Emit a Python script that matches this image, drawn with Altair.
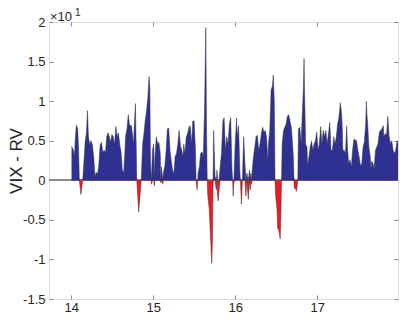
import altair as alt
import pandas as pd

# x positions (axis units) and VIX - RV values (in units of 10^1)
t = [14.004, 14.027, 14.039, 14.051, 14.063, 14.079, 14.091, 14.099, 14.119, 14.140,
     14.159, 14.171, 14.186, 14.198, 14.210, 14.227, 14.242, 14.258, 14.274, 14.290,
     14.305, 14.322, 14.337, 14.353, 14.370, 14.385, 14.401, 14.418, 14.433, 14.449,
     14.465, 14.481, 14.496, 14.513, 14.529, 14.544, 14.561, 14.576, 14.592, 14.609,
     14.624, 14.640, 14.652, 14.663, 14.680, 14.696, 14.711, 14.735, 14.759, 14.783,
     14.800, 14.823, 14.854, 14.871, 14.887, 14.902, 14.919, 14.934, 14.950, 14.959,
     14.967, 14.974, 14.979, 14.991, 15.006, 15.014, 15.021, 15.038, 15.054, 15.069,
     15.086, 15.093, 15.101, 15.117, 15.125, 15.141, 15.158, 15.173, 15.189, 15.205,
     15.221, 15.236, 15.253, 15.268, 15.284, 15.301, 15.316, 15.332, 15.348, 15.364,
     15.372, 15.388, 15.403, 15.420, 15.436, 15.451, 15.468, 15.483, 15.499, 15.516,
     15.523, 15.535, 15.543, 15.547, 15.563, 15.579, 15.594, 15.611, 15.626, 15.642,
     15.650, 15.659, 15.666, 15.683, 15.698, 15.714, 15.722, 15.730, 15.737, 15.746,
     15.754, 15.770, 15.778, 15.785, 15.794, 15.802, 15.817, 15.833, 15.850, 15.865,
     15.881, 15.897, 15.913, 15.929, 15.945, 15.961, 15.969, 15.976, 15.984, 16.000,
     16.017, 16.024, 16.041, 16.048, 16.056, 16.064, 16.076, 16.088, 16.096, 16.104,
     16.119, 16.131, 16.143, 16.160, 16.175, 16.184, 16.191, 16.199, 16.208, 16.223,
     16.239, 16.255, 16.271, 16.286, 16.303, 16.319, 16.334, 16.351, 16.366, 16.382,
     16.399, 16.406, 16.422, 16.438, 16.454, 16.465, 16.477, 16.486, 16.494, 16.510,
     16.518, 16.533, 16.549, 16.557, 16.565, 16.573, 16.590, 16.605, 16.621, 16.637,
     16.653, 16.668, 16.685, 16.700, 16.709, 16.716, 16.721, 16.733, 16.748, 16.764,
     16.772, 16.788, 16.804, 16.820, 16.832, 16.840, 16.847, 16.859, 16.876, 16.883,
     16.900, 16.915, 16.931, 16.947, 16.963, 16.979, 16.995, 17.011, 17.026, 17.043,
     17.058, 17.074, 17.091, 17.106, 17.122, 17.138, 17.154, 17.169, 17.186, 17.202,
     17.217, 17.234, 17.249, 17.265, 17.282, 17.297, 17.306, 17.313, 17.329, 17.345,
     17.360, 17.369, 17.384, 17.401, 17.417, 17.432, 17.449, 17.464, 17.480, 17.496,
     17.512, 17.527, 17.544, 17.560, 17.575, 17.592, 17.600, 17.607, 17.616, 17.631,
     17.647, 17.655, 17.663, 17.679, 17.695, 17.711, 17.727, 17.742, 17.759, 17.774,
     17.790, 17.807, 17.814, 17.831, 17.846, 17.862, 17.878, 17.894, 17.910, 17.926,
     17.942, 17.958, 17.974, 17.986]

vix_rv = [0.43, 0.38, 0.30, 0.55, 0.70, 0.65, 0.35, 0.00, -0.18, 0.00,
          0.30, 0.50, 0.60, 0.88, 0.55, 0.45, 0.50, 0.45, 0.30, 0.05,
          0.10, 0.08, 0.20, 0.45, 0.48, 0.35, 0.38, 0.35, 0.55, 0.60,
          0.55, 0.48, 0.58, 0.55, 0.45, 0.68, 0.55, 0.60, 0.45, 0.35,
          0.12, 0.10, 0.30, 0.55, 0.65, 0.83, 0.70, 0.69, 0.46, 0.97,
          0.00, -0.40, 0.00, 0.46, 0.59, 0.75, 0.88, 1.04, 1.31, 1.17,
          0.26, 0.09, -0.05, 0.38, 0.46, -0.07, 0.30, 0.55, 0.46, 0.48,
          0.34, -0.03, 0.17, -0.05, 0.10, 0.17, 0.38, 0.65, 0.66, 0.38,
          0.24, 0.13, 0.09, 0.30, 0.34, 0.46, 0.63, 0.44, 0.38, 0.30,
          0.46, 0.34, 0.55, 0.59, 0.67, 0.69, 0.46, 0.75, 0.75, 0.38,
          0.00, -0.12, 0.00, 0.09, 0.17, 0.34, 0.36, 0.30, 0.88, 1.93,
          0.67, 0.00, -0.20, -0.36, -0.69, -1.05, -0.78, -0.03, 0.63, 0.34,
          0.05, -0.12, 0.13, -0.20, -0.26, -0.14, 0.17, 0.34, 0.75, 0.79,
          0.38, 0.55, 0.46, 0.71, 0.79, 0.13, 0.00, -0.20, -0.03, 0.46,
          0.79, 0.55, 0.69, 0.46, 0.13, 0.00, -0.30, 0.00, 0.30, 0.55,
          0.21, -0.20, 0.09, -0.24, 0.13, -0.12, 0.09, -0.05, 0.13, 0.30,
          0.42, 0.55, 0.57, 0.38, 0.46, 0.59, 0.67, 0.61, 0.63, 0.55,
          0.24, 0.46, 0.63, 1.14, 1.19, 1.33, 1.00, 0.00, -0.20, -0.36,
          -0.61, -0.63, -0.74, -0.45, 0.00, 0.46, 0.63, 0.67, 0.71, 0.81,
          0.83, 0.75, 0.67, 0.46, 0.30, 0.05, -0.10, -0.10, -0.14, 0.00,
          0.65, 0.67, 0.46, 0.88, 1.17, 1.54, 1.08, 0.46, 0.42, 0.19,
          0.30, 0.42, 0.50, 0.38, 0.46, 0.50, 0.61, 0.38, 0.46, 0.68,
          0.46, 0.63, 0.55, 0.63, 0.46, 0.59, 0.73, 0.38, 0.38, 0.55,
          0.46, 0.55, 0.71, 0.79, 0.98, 0.86, 0.67, 0.38, 0.38, 0.34,
          0.69, 0.42, 0.21, 0.26, 0.17, 0.38, 0.52, 0.51, 0.50, 0.38,
          0.30, 0.19, 0.21, 0.42, 0.48, 0.71, 1.00, 0.83, 0.71, 0.42,
          0.30, 0.13, 0.24, 0.22, 0.15, 0.38, 0.42, 0.46, 0.61, 0.63,
          0.65, 0.69, 0.55, 0.59, 0.57, 0.81, 0.55, 0.46, 0.50, 0.38,
          0.34, 0.38, 0.50, 0.45]

x_ticks = [14, 15, 16, 17]
y_ticks = [-1.5, -1, -0.5, 0, 0.5, 1, 1.5, 2]
x_domain = [13.729, 17.986]
y_domain = [-1.5, 2]
y_title = "VIX - RV"
exp_base = "×10"
exp_power = "1"

df = pd.DataFrame({"t": t, "v": vix_rv})

FONT = "Liberation Sans"
TXT = "#262626"
AX = "#8a8a8a"
BLUE = "#2E3192"
RED = "#ED1C24"
H = 277

xs = alt.Scale(domain=x_domain, nice=False, zero=False)
ys = alt.Scale(domain=y_domain, nice=False, zero=False)

base = alt.Chart(df).transform_calculate(
    pos="max(datum.v, 0)", neg="min(datum.v, 0)"
)

zero_rule = alt.Chart(df).mark_rule(color=AX, strokeWidth=1).encode(
    y=alt.Y(datum=0, scale=ys, axis=None)
)

pos_area = base.mark_area(
    color=BLUE, opacity=1, fillOpacity=1,
    line={"color": "#333344", "strokeWidth": 0.5}
).encode(
    x=alt.X("t:Q", scale=xs, axis=alt.Axis(
        orient="bottom", values=x_ticks, format="d", domain=False,
        ticks=True, tickSize=4, offset=-4, tickColor=AX,
        labelPadding=2, labelFontSize=13, labelColor=TXT, labelFont=FONT,
        title=None, grid=False)),
    y=alt.Y("pos:Q", scale=ys, axis=alt.Axis(
        orient="left", values=y_ticks, labelExpr="'' + datum.value",
        domain=False, ticks=True, tickSize=4, offset=-4, tickColor=AX,
        labelPadding=4, labelFontSize=13, labelColor=TXT, labelFont=FONT,
        title=y_title, titleFont=FONT, titleFontSize=17, titleFontWeight="normal",
        titleColor=TXT, titleX=-37, titleY=H / 2, titleAlign="center",
        titleBaseline="middle", titleAngle=270, grid=False)),
)

neg_area = base.mark_area(
    color=RED, opacity=1, fillOpacity=1,
    line={"color": "#552222", "strokeWidth": 0.5}
).encode(
    x=alt.X("t:Q", scale=xs, axis=alt.Axis(
        orient="top", values=x_ticks, labels=False, domain=False,
        ticks=True, tickSize=4, offset=-4, tickColor=AX, title=None, grid=False)),
    y=alt.Y("neg:Q", scale=ys, axis=alt.Axis(
        orient="right", values=y_ticks, labels=False, domain=False,
        ticks=True, tickSize=4, offset=-4, tickColor=AX, title=None, grid=False)),
)

exp_df = pd.DataFrame({"b": [exp_base], "p": [exp_power]})
exp_text = alt.Chart(exp_df).mark_text(
    align="left", baseline="alphabetic", font=FONT, fontSize=13, color=TXT
).encode(text="b:N", x=alt.value(1), y=alt.value(-1))
pow_text = alt.Chart(exp_df).mark_text(
    align="left", baseline="alphabetic", font=FONT, fontSize=10, color=TXT
).encode(text="p:N", x=alt.value(26), y=alt.value(-6))

chart = alt.layer(zero_rule, pos_area, neg_area, exp_text, pow_text).resolve_axis(
    x="independent", y="independent"
).properties(
    width=349, height=H,
    autosize=alt.AutoSizeParams(type="none"),
    padding={"left": 41, "top": 14, "right": 1, "bottom": 15},
).configure_view(
    stroke=AX, strokeWidth=1
).configure(background="white")

chart.save("out.html", embed_options={"renderer": "svg", "actions": False})
